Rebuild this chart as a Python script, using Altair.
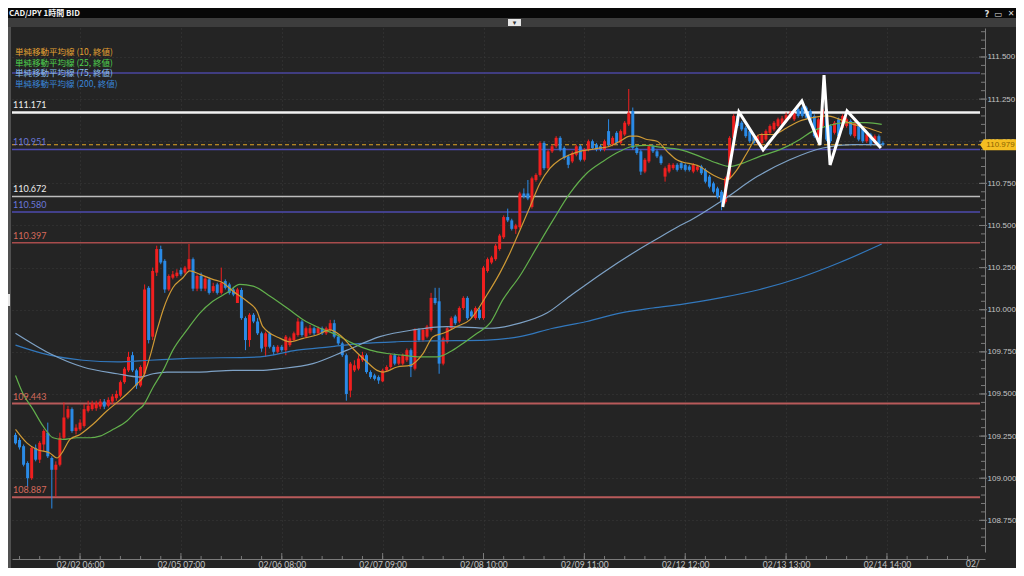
import altair as alt
import pandas as pd

# ---------------- data ----------------
candle_open = [
    109.257, 109.227, 109.19, 109.09, 109.00, 109.18, 109.11, 109.20, 109.27, 109.12,
    109.05, 109.08, 109.24, 109.36, 109.41, 109.28, 109.29, 109.31, 109.40, 109.41,
    109.415, 109.425, 109.455, 109.43, 109.455, 109.475, 109.49, 109.57, 109.64, 109.73,
    109.64, 109.55, 109.62, 110.13, 109.84, 110.22, 110.36, 110.29, 110.12, 110.19,
    110.20, 110.235, 110.22, 110.24, 110.30, 110.125, 110.20, 110.125, 110.18, 110.11,
    110.15, 110.10, 110.17, 110.15, 110.12, 110.04, 110.117, 109.95, 109.82, 109.97,
    109.93, 109.86, 109.78, 109.86, 109.78, 109.75, 109.78, 109.76, 109.79, 109.82,
    109.85, 109.93, 109.84, 109.86, 109.89, 109.86, 109.89, 109.86, 109.88, 109.92,
    109.84, 109.80, 109.73, 109.52, 109.64, 109.65, 109.70, 109.73, 109.63, 109.61,
    109.60, 109.575, 109.64, 109.66, 109.73, 109.68, 109.68, 109.70, 109.76, 109.65,
    109.88, 109.82, 109.84, 109.88, 110.07, 110.05, 109.68, 109.81, 109.89, 109.96,
    109.93, 110.01, 110.07, 109.99, 109.95, 110.00, 109.95, 110.23, 110.28, 110.30,
    110.36, 110.43, 110.55, 110.53, 110.48, 110.49, 110.69, 110.69, 110.61, 110.77,
    110.80, 110.99, 110.84, 110.94, 110.97, 111.02, 110.96, 110.91, 110.88, 110.92,
    110.97, 110.89, 110.95, 111.00, 110.98, 110.97, 110.95, 111.06, 110.98, 111.05,
    110.99, 111.04, 111.10, 111.18, 110.96, 110.94, 110.82, 110.88, 110.97, 110.94,
    110.91, 110.79, 110.82, 110.84, 110.86, 110.87, 110.86, 110.85, 110.82, 110.83,
    110.85, 110.83, 110.79, 110.75, 110.72, 110.70, 110.64, 110.78, 111.02, 111.15,
    111.11, 111.08, 111.06, 111.03, 110.99, 110.99, 111.01, 111.05, 111.07, 111.09,
    111.10, 111.12, 111.14, 111.13, 111.19, 111.20, 111.20, 111.18, 111.15, 111.01,
    111.09, 111.19, 111.09, 111.05, 111.13, 111.08, 111.09, 111.12, 111.03, 111.09,
    111.08, 111.00, 111.04, 110.99, 111.03, 110.99,
]
candle_close = [
    109.207, 109.183, 109.08, 109.00, 109.18, 109.11, 109.21, 109.28, 109.13, 109.05,
    109.08, 109.24, 109.36, 109.41, 109.28, 109.30, 109.33, 109.41, 109.43, 109.445,
    109.445, 109.455, 109.425, 109.465, 109.485, 109.50, 109.57, 109.65, 109.72, 109.64,
    109.55, 109.66, 110.12, 109.82, 110.23, 110.36, 110.28, 110.12, 110.20, 110.21,
    110.22, 110.21, 110.25, 110.30, 110.125, 110.20, 110.125, 110.185, 110.10, 110.14,
    110.10, 110.16, 110.13, 110.10, 110.09, 110.12, 109.95, 109.82, 109.97, 109.93,
    109.86, 109.77, 109.86, 109.78, 109.75, 109.78, 109.76, 109.84, 109.83, 109.86,
    109.93, 109.85, 109.89, 109.89, 109.86, 109.89, 109.86, 109.89, 109.92, 109.84,
    109.80, 109.73, 109.50, 109.68, 109.67, 109.71, 109.73, 109.63, 109.60, 109.59,
    109.58, 109.64, 109.66, 109.73, 109.68, 109.72, 109.73, 109.76, 109.66, 109.88,
    109.82, 109.88, 109.90, 110.07, 110.04, 109.68, 109.83, 109.89, 109.95, 109.92,
    110.01, 110.07, 109.95, 109.96, 110.01, 109.95, 110.25, 110.30, 110.31, 110.38,
    110.44, 110.55, 110.53, 110.48, 110.50, 110.69, 110.67, 110.66, 110.78, 110.80,
    110.99, 110.84, 110.94, 110.97, 111.02, 110.95, 110.90, 110.86, 110.93, 110.97,
    110.89, 110.95, 111.00, 110.96, 110.95, 110.95, 111.00, 110.98, 111.02, 110.99,
    111.06, 111.11, 111.17, 110.96, 110.93, 110.82, 110.89, 110.97, 110.94, 110.91,
    110.87, 110.84, 110.86, 110.86, 110.83, 110.84, 110.83, 110.83, 110.86, 110.85,
    110.81, 110.76, 110.73, 110.70, 110.67, 110.64, 110.78, 111.02, 111.15, 111.09,
    111.07, 111.03, 111.00, 110.99, 111.03, 111.04, 111.06, 111.09, 111.11, 111.13,
    111.135, 111.155, 111.165, 111.165, 111.15, 111.15, 111.14, 111.11, 111.03, 111.13,
    111.19, 111.01, 111.00, 111.11, 111.03, 111.15, 111.13, 111.04, 111.11, 111.01,
    111.00, 111.04, 110.98, 111.03, 110.98, 110.979,
]
candle_high = [
    109.27, 109.24, 109.20, 109.10, 109.19, 109.20, 109.22, 109.29, 109.33, 109.13,
    109.10, 109.27, 109.45, 109.43, 109.42, 109.32, 109.35, 109.44, 109.46, 109.46,
    109.46, 109.47, 109.47, 109.48, 109.50, 109.52, 109.58, 109.66, 109.75, 109.75,
    109.65, 109.67, 110.15, 110.14, 110.25, 110.38, 110.38, 110.30, 110.21, 110.23,
    110.24, 110.25, 110.26, 110.39, 110.31, 110.21, 110.22, 110.20, 110.19, 110.16,
    110.16, 110.25, 110.18, 110.16, 110.13, 110.13, 110.13, 109.96, 109.98, 109.98,
    109.95, 109.87, 109.87, 109.87, 109.79, 109.79, 109.79, 109.85, 109.84, 109.87,
    109.95, 109.94, 109.90, 109.91, 109.90, 109.90, 109.90, 109.90, 109.94, 109.94,
    109.85, 109.81, 109.74, 109.69, 109.70, 109.73, 109.75, 109.74, 109.64, 109.62,
    109.61, 109.65, 109.67, 109.74, 109.74, 109.73, 109.74, 109.77, 109.77, 109.89,
    109.89, 109.89, 109.91, 110.10, 110.13, 110.13, 109.84, 109.90, 109.96, 109.97,
    110.02, 110.08, 110.08, 110.00, 110.02, 110.01, 110.26, 110.31, 110.32, 110.39,
    110.45, 110.56, 110.60, 110.54, 110.51, 110.70, 110.72, 110.77, 110.79, 110.81,
    111.00, 111.00, 110.95, 110.98, 111.03, 111.03, 110.97, 110.92, 110.94, 110.98,
    110.98, 110.96, 111.01, 111.01, 110.99, 110.98, 111.01, 111.13, 111.03, 111.06,
    111.07, 111.12, 111.31, 111.20, 110.97, 110.95, 110.90, 110.98, 110.98, 110.95,
    110.92, 110.85, 110.87, 110.87, 110.87, 110.88, 110.87, 110.86, 110.87, 110.86,
    110.86, 110.84, 110.80, 110.76, 110.73, 110.71, 110.79, 111.03, 111.16, 111.16,
    111.12, 111.09, 111.07, 111.04, 111.04, 111.05, 111.07, 111.10, 111.12, 111.14,
    111.15, 111.17, 111.18, 111.18, 111.20, 111.21, 111.21, 111.19, 111.16, 111.14,
    111.20, 111.20, 111.10, 111.12, 111.14, 111.16, 111.14, 111.13, 111.12, 111.10,
    111.09, 111.05, 111.05, 111.04, 111.04, 111.00,
]
candle_low = [
    109.20, 109.17, 109.07, 108.95, 108.99, 109.10, 109.09, 109.16, 109.12, 108.82,
    108.89, 109.07, 109.23, 109.35, 109.27, 109.26, 109.28, 109.30, 109.39, 109.40,
    109.40, 109.41, 109.41, 109.42, 109.44, 109.46, 109.48, 109.56, 109.63, 109.63,
    109.53, 109.54, 109.60, 109.80, 109.82, 110.20, 110.27, 110.10, 110.11, 110.18,
    110.19, 110.20, 110.21, 110.23, 110.11, 110.11, 110.11, 110.11, 110.09, 110.10,
    110.09, 110.09, 110.12, 110.09, 110.08, 110.04, 109.94, 109.76, 109.78, 109.92,
    109.85, 109.75, 109.72, 109.77, 109.73, 109.74, 109.75, 109.73, 109.78, 109.81,
    109.84, 109.84, 109.83, 109.85, 109.85, 109.85, 109.85, 109.85, 109.87, 109.83,
    109.79, 109.72, 109.46, 109.48, 109.63, 109.64, 109.69, 109.62, 109.59, 109.58,
    109.56, 109.57, 109.63, 109.65, 109.67, 109.67, 109.67, 109.69, 109.60, 109.64,
    109.81, 109.81, 109.83, 109.87, 110.03, 109.62, 109.67, 109.80, 109.88, 109.91,
    109.92, 110.00, 109.94, 109.95, 109.94, 109.94, 109.94, 110.22, 110.27, 110.29,
    110.35, 110.42, 110.52, 110.47, 110.45, 110.48, 110.66, 110.65, 110.60, 110.76,
    110.79, 110.83, 110.83, 110.93, 110.96, 110.94, 110.89, 110.84, 110.87, 110.91,
    110.88, 110.88, 110.94, 110.95, 110.94, 110.94, 110.94, 110.97, 110.97, 110.98,
    110.98, 111.03, 111.09, 110.95, 110.92, 110.80, 110.81, 110.87, 110.93, 110.90,
    110.86, 110.76, 110.81, 110.83, 110.82, 110.83, 110.82, 110.82, 110.81, 110.82,
    110.80, 110.75, 110.72, 110.69, 110.66, 110.59, 110.63, 110.77, 111.01, 111.08,
    111.06, 111.02, 110.99, 110.98, 110.98, 110.98, 111.00, 111.04, 111.06, 111.08,
    111.09, 111.11, 111.13, 111.12, 111.14, 111.14, 111.13, 111.10, 111.02, 111.00,
    111.08, 111.00, 110.99, 111.04, 111.02, 111.07, 111.08, 111.03, 111.02, 111.00,
    110.99, 110.99, 110.97, 110.98, 110.97, 110.97,
]

# simple moving averages (x in candle index)
ma10_k = [0, 2.8, 5.3, 8.5, 10.3, 11.5, 13.5, 16.0, 19.2, 22.7, 25.2, 27.6, 30.1, 31.6, 33.3,
          35.1, 36.6, 39.0, 41.5, 43.2, 45.7, 48.9, 51.4, 53.9, 57.4, 59.9, 61.3, 65.6, 68.0,
          71.3, 74.7, 77.9, 80.4, 83.6, 87.1, 89.6, 91.1, 94.6, 97.8, 101.0, 103.5, 106.0,
          109.4, 112.6, 116.9, 120.1, 122.6, 125.0, 127.5, 130.0, 132.5, 134.9, 137.4, 139.9,
          142.4, 144.9, 147.3, 149.8, 152.3, 154.0, 156.5, 159.0, 161.5, 163.9, 169.6, 172.9,
          176.3, 178.8, 181.3, 184.5, 187.7, 191.2, 194.4, 197.6, 201.1, 204.3, 207.6, 211.0, 214.7]
ma10_v = [109.29, 109.21, 109.17, 109.15, 109.12, 109.15, 109.23, 109.26, 109.32, 109.40, 109.45,
          109.50, 109.56, 109.60, 109.72, 109.88, 110.00, 110.13, 110.19, 110.23, 110.21, 110.18,
          110.16, 110.11, 110.05, 109.99, 109.90, 109.83, 109.81, 109.83, 109.85, 109.88, 109.85,
          109.77, 109.69, 109.64, 109.63, 109.66, 109.67, 109.74, 109.84, 109.86, 109.90, 109.94,
          110.09, 110.22, 110.34, 110.47, 110.61, 110.75, 110.84, 110.89, 110.92, 110.94, 110.95,
          110.96, 110.97, 111.00, 111.03, 111.03, 111.01, 111.00, 110.94, 110.89, 110.85, 110.80,
          110.77, 110.83, 110.93, 111.04, 111.04, 111.08, 111.12, 111.14, 111.15, 111.13, 111.10,
          111.08, 111.05]
ma25_k = [0, 1.9, 4.3, 6.8, 9.3, 11.8, 15.2, 18.5, 20.9, 24.2, 27.6, 30.1, 31.6, 34.1, 36.6,
          39.0, 42.5, 45.7, 48.9, 52.4, 55.6, 58.9, 63.1, 67.3, 71.3, 75.5, 79.7, 83.6, 87.9,
          92.1, 96.0, 100.2, 104.5, 107.7, 110.9, 114.4, 117.6, 120.8, 125.0, 129.2, 133.2,
          137.4, 141.6, 145.6, 149.8, 153.0, 156.5, 159.7, 164.7, 169.6, 173.9, 177.1, 180.3,
          184.5, 189.5, 194.4, 197.6, 201.1, 206.1, 211.0, 214.7]
ma25_v = [109.61, 109.50, 109.41, 109.31, 109.24, 109.23, 109.24, 109.24, 109.25, 109.29, 109.34,
          109.40, 109.43, 109.54, 109.64, 109.76, 109.88, 109.98, 110.05, 110.10, 110.15, 110.14,
          110.08, 110.01, 109.94, 109.89, 109.85, 109.80, 109.76, 109.74, 109.73, 109.72, 109.72,
          109.75, 109.80, 109.86, 109.92, 110.06, 110.20, 110.37, 110.53, 110.69, 110.81, 110.88,
          110.94, 110.97, 110.975, 110.965, 110.95, 110.91, 110.87, 110.85, 110.87, 110.91,
          110.95, 111.01, 111.06, 111.09, 111.11, 111.11, 111.10]
ma75_k = [0, 8.5, 16.7, 25.2, 30.9, 34.1, 37.5, 45.7, 53.9, 60.6, 65.6, 73.7, 82.2, 90.3, 98.5,
          106.9, 117.6, 125.0, 131.7, 137.4, 145.6, 154.0, 159.7, 164.7, 167.2, 175.3, 183.8,
          191.9, 200.1, 207.6, 214.7]
ma75_v = [109.86, 109.74, 109.66, 109.62, 109.60, 109.62, 109.63, 109.63, 109.64, 109.64, 109.65,
          109.68, 109.76, 109.84, 109.88, 109.90, 109.89, 109.92, 109.98, 110.08, 110.22, 110.35,
          110.43, 110.50, 110.53, 110.65, 110.79, 110.89, 110.96, 110.98, 110.98]
ma200_k = [0, 8.5, 16.7, 25.2, 33.3, 41.5, 60.6, 69.8, 77.9, 86.1, 94.5, 102.7, 116.9, 125.0,
           133.2, 141.6, 149.8, 158.0, 164.7, 174.6, 184.5, 194.4, 204.3, 214.7]
ma200_v = [109.79, 109.73, 109.70, 109.69, 109.70, 109.71, 109.72, 109.76, 109.78, 109.80, 109.81,
           109.815, 109.82, 109.84, 109.89, 109.93, 109.98, 110.01, 110.03, 110.07, 110.12, 110.19,
           110.28, 110.39]

# hand-drawn white zig-zag
zig_k = [175.3, 179.3, 185.3, 194.9, 199.4, 200.4, 201.9, 206.1, 214.5]
zig_v = [110.61, 111.174, 110.948, 111.239, 110.978, 111.393, 110.859, 111.18, 110.96]

# horizontal price levels
level_values = [111.405, 111.171, 110.951, 110.672, 110.580, 110.397, 109.443, 108.887]
level_labels = ["", "111.171", "110.951", "110.672", "110.580", "110.397", "109.443", "108.887"]
current_price = 110.979

legend_labels = ["単純移動平均線 (10, 終値)", "単純移動平均線 (25, 終値)",
                 "単純移動平均線 (75, 終値)", "単純移動平均線 (200, 終値)"]

x_label_pos = [16, 41, 66, 91, 116, 141, 166, 191, 216]
x_label_text = ["02/02 06:00", "02/05 07:00", "02/06 08:00", "02/07 09:00", "02/08 10:00",
                "02/09 11:00", "02/12 12:00", "02/13 13:00", "02/14 14:00"]
y_tick_values = [108.75, 109.0, 109.25, 109.5, 109.75, 110.0, 110.25, 110.5, 110.75,
                 111.0, 111.25, 111.5]

# ---------------- styles ----------------
W, H = 973, 524
BG = "#242424"
UP, DOWN = "#f01f1f", "#2a8ae6"
MA_COLORS = ["#cf9a35", "#62b04c", "#7ea2c6", "#3278bd"]
LEGEND_COLORS = ["#e3a233", "#4fd24f", "#8ec0f0", "#3a86d8"]
LEVEL_LINE = ["#4a46a0", "#f2f2f2", "#4d4aae", "#bcbcbc", "#4d4aae", "#a84c4c", "#b85a5a", "#b85a5a"]
LEVEL_WIDTH = [1.5, 2.5, 1.5, 1.5, 1.5, 1.5, 2, 2]
LEVEL_TEXT = ["#6a78d8", "#eeeeee", "#6a78d8", "#eeeeee", "#6a78d8", "#d66a5c", "#d66a5c", "#d66a5c"]
AXIS_FONT = "Liberation Sans"

xs = alt.Scale(domain=[-0.87, 240.3], nice=False, zero=False)
ys = alt.Scale(domain=[108.562, 111.672], nice=False, zero=False)

label_expr = "".join(f"datum.value == {p} ? '{t}' : " for p, t in zip(x_label_pos, x_label_text)) + "''"

x_axis = alt.Axis(orient="bottom", values=x_label_pos, labelExpr=label_expr, ticks=False,
                  domain=True, domainColor="#7a7a7a", offset=7, labelColor="#c4c4c4",
                  labelFont="Lato", labelFontSize=8.5, labelPadding=1, grid=True,
                  gridColor="#3a3a3a", gridDash=[1, 3], title=None, labelFlush=False,
                  labelOverlap=False, zindex=0)
y_axis = alt.Axis(orient="right", values=y_tick_values, format=".3f", ticks=False,
                  domain=True, domainColor="#7a7a7a", labelColor="#c4c4c4", labelFont=AXIS_FONT,
                  labelFontSize=8, labelPadding=2, grid=True, gridColor="#3a3a3a",
                  gridDash=[1, 3], title=None, labelFlush=False, labelOverlap=False, zindex=0)


def X(f):
    return alt.X(f, type="quantitative", scale=xs, axis=x_axis)


def Y(f):
    return alt.Y(f, type="quantitative", scale=ys, axis=y_axis)


one = pd.DataFrame({"a": [0]})


def box(x1, x2, y1, y2, col):
    return alt.Chart(one).mark_rect(color=col).encode(
        x=alt.value(x1), x2=alt.value(x2), y=alt.value(y1), y2=alt.value(y2))


def txt(s, x, y, col, size, font, weight="normal", align="left"):
    return alt.Chart(one).mark_text(text=s, color=col, fontSize=size, font=font,
                                    fontWeight=weight, align=align, baseline="middle").encode(
        x=alt.value(x), y=alt.value(y))


# ---------------- layers ----------------
layers = []

# price levels
for v, lab, lc, lw in zip(level_values, level_labels, LEVEL_LINE, LEVEL_WIDTH):
    layers.append(alt.Chart(pd.DataFrame({"v": [v]})).mark_rule(color=lc, strokeWidth=lw)
                  .encode(y=Y("v"), x=alt.value(0), x2=alt.value(968)))

# current price dashed line
price_df = pd.DataFrame({"v": [current_price], "label": [f"{current_price:.3f}"]})
layers.append(alt.Chart(price_df).mark_rule(color="#e0a325", strokeWidth=1, strokeDash=[4, 3])
              .encode(y=Y("v"), x=alt.value(0), x2=alt.value(W)))

# candles
cdf = pd.DataFrame({"k": list(range(len(candle_open))), "open": candle_open,
                    "high": candle_high, "low": candle_low, "close": candle_close})
cdf["dir"] = ["up" if c >= o else "down" for o, c in zip(candle_open, candle_close)]
cdf["k0"] = cdf["k"] - 0.37
cdf["k1"] = cdf["k"] + 0.37
ccol = alt.Color("dir:N", scale=alt.Scale(domain=["up", "down"], range=[UP, DOWN]), legend=None)
layers.append(alt.Chart(cdf).mark_rule(strokeWidth=1).encode(x=X("k"), y=Y("low"), y2="high", color=ccol))
layers.append(alt.Chart(cdf).mark_rect().encode(x=X("k0"), x2="k1", y=Y("open"), y2="close", color=ccol))

# moving averages
for ks, vs, col in [(ma200_k, ma200_v, MA_COLORS[3]), (ma75_k, ma75_v, MA_COLORS[2]),
                    (ma25_k, ma25_v, MA_COLORS[1]), (ma10_k, ma10_v, MA_COLORS[0])]:
    layers.append(alt.Chart(pd.DataFrame({"k": ks, "v": vs}))
                  .mark_line(color=col, strokeWidth=1.2, interpolate="monotone")
                  .encode(x=X("k"), y=Y("v")))

# zig-zag
zdf = pd.DataFrame({"k": zig_k, "v": zig_v, "i": list(range(len(zig_k)))})
layers.append(alt.Chart(zdf).mark_line(color="#ffffff", strokeWidth=3, strokeJoin="miter",
                                       strokeMiterLimit=4)
              .encode(x=X("k"), y=Y("v"), order="i:Q"))

# level labels
for v, lab, tc in zip(level_values, level_labels, LEVEL_TEXT):
    if lab:
        layers.append(alt.Chart(pd.DataFrame({"v": [v], "t": [lab]}))
                      .mark_text(align="left", baseline="bottom", dy=-2, font="Lato",
                                 fontSize=9, color=tc)
                      .encode(y=Y("v"), x=alt.value(1), text="t:N"))

# legend
for i, (lab, col) in enumerate(zip(legend_labels, LEGEND_COLORS)):
    layers.append(txt(lab, 3, 24 + i * 10.6, col, 8.5, "Noto Sans CJK JP"))

# y axis ticks (inside) and x axis ticks (upwards)
layers.append(alt.Chart(alt.sequence(108.6, 111.66, 0.05, as_="v")).mark_rule(color="#7a7a7a")
              .encode(y=Y("v"), x=alt.value(W - 4), x2=alt.value(W)))
layers.append(alt.Chart(pd.DataFrame({"v": y_tick_values})).mark_rule(color="#7a7a7a")
              .encode(y=Y("v"), x=alt.value(W - 6), x2=alt.value(W + 2)))
layers.append(alt.Chart(alt.sequence(1, 240, 5, as_="t")).mark_rule(color="#7a7a7a")
              .encode(x=X("t"), y=alt.value(H + 4), y2=alt.value(H + 7)))
layers.append(alt.Chart(pd.DataFrame({"t": x_label_pos})).mark_rule(color="#7a7a7a")
              .encode(x=X("t"), y=alt.value(H + 1), y2=alt.value(H + 7)))
layers.append(txt("02/", 954, H + 12, "#c4c4c4", 8.5, "Lato"))

# current price tag on the axis
layers.append(alt.Chart(price_df).mark_point(
    shape="M -1 0 L -0.8 -0.3 L 1 -0.3 L 1 0.3 L -0.8 0.3 Z", size=1296, filled=True,
    color="#f5be22", opacity=1).encode(x=alt.value(986), y=Y("v")))
layers.append(alt.Chart(price_df).mark_text(font=AXIS_FONT, fontSize=8, color="#8a6400",
                                            align="center", baseline="middle")
              .encode(x=alt.value(988.5), y=Y("v"), text="label:N"))

# window chrome
layers += [
    box(-4, 1004, -20, -10, "#080808"),
    box(-4, 1004, -10, -1, "#3d3d3d"),
    box(496, 509, -9, -2, "#e6e6e6"),
    box(-4, -1, -1, 540, "#505050"),
    box(-4, -2, 266, 278, "#e8e8e8"),
    txt("CAD/JPY 1時間 BID", -3, -14.5, "#f2f2f2", 8, "Noto Sans CJK JP", "bold"),
    txt("?", 975, -14.5, "#dddddd", 8.5, "DejaVu Sans", "bold", "center"),
    txt("▭", 986, -14.5, "#dddddd", 8.5, "DejaVu Sans", "normal", "center"),
    txt("✕", 999, -14.5, "#dddddd", 8, "DejaVu Sans", "normal", "center"),
    txt("▾", 502.5, -5.5, "#333333", 7, "DejaVu Sans", "normal", "center"),
]

chart = alt.layer(*layers).properties(
    width=W, height=H,
    padding={"left": 4, "top": 20, "right": 31, "bottom": 16},
    autosize=alt.AutoSizeParams(type="none"),
    background=BG,
).configure_view(strokeWidth=0)

chart.save("out.html", embed_options={"renderer": "svg", "actions": False})
